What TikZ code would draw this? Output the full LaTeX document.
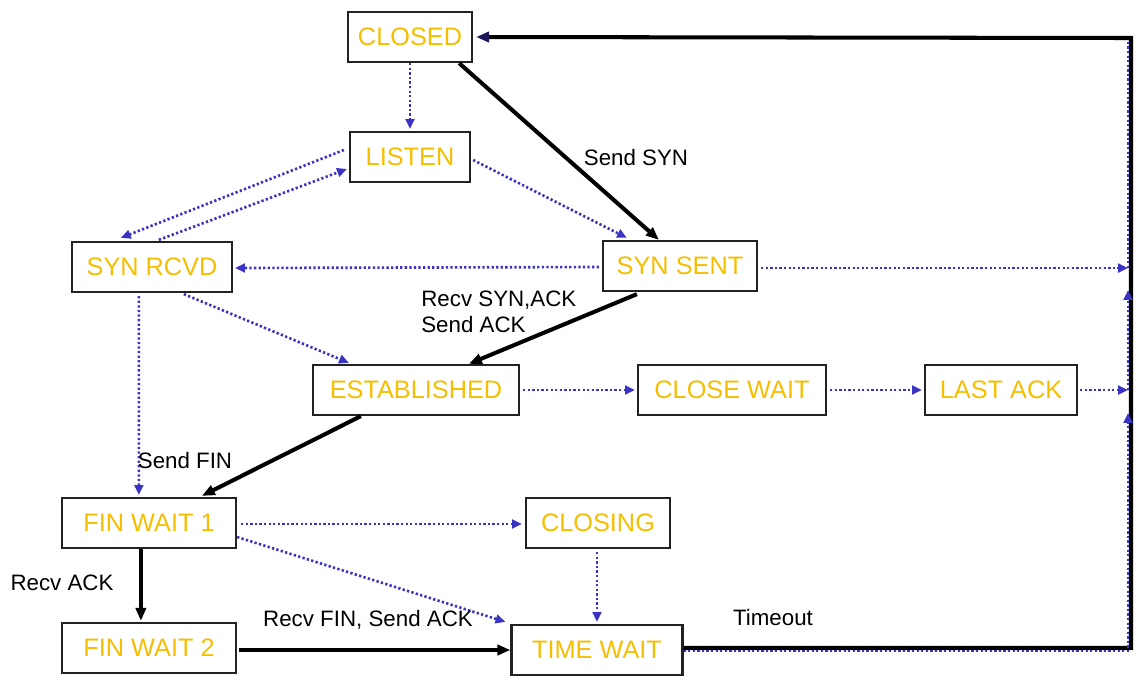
\documentclass[tikz,border=0pt]{standalone}
\usepackage{fontspec}
\setmainfont{Liberation Sans}
\usepackage{tikz}
\usetikzlibrary{arrows.meta,calc}
\definecolor{cGold}{HTML}{F5BF00}
\definecolor{cBlue}{HTML}{3B33C4}
\definecolor{cEdge}{HTML}{222222}
\tikzset{
  state/.style={draw=cEdge,line width=1.3pt,fill=white,text=cGold,inner sep=0pt,
    minimum height=1.0cm,font=\fontsize{14.4}{16}\selectfont},
  lbl/.style={inner sep=0pt,align=left,font=\fontsize{12.7}{15}\selectfont},
  tcp/.style={-{Triangle[length=7.4pt,width=5.8pt]},line width=2.3pt,black},
  opt/.style={-{Triangle[length=5.6pt,width=5pt]},cBlue,line width=1.5pt,
    dash pattern=on 1.3pt off 1.3pt},
}

\begin{document}
\begin{tikzpicture}[x=0.02cm,y=-0.02cm]
  \useasboundingbox (0,0) rectangle (1145,684);
  % states
  \node[state,minimum width=2.48cm] (closed) at (410,37) {CLOSED};
  \node[state,minimum width=2.40cm] (listen) at (410,157) {LISTEN};
  \node[state,minimum width=3.20cm] (synrcvd) at (152,267) {SYN RCVD};
  \node[state,minimum width=3.08cm] (synsent) at (680,266) {SYN SENT};
  \node[state,minimum width=4.12cm] (established) at (416,390) {ESTABLISHED};
  \node[state,minimum width=3.76cm] (closewait) at (732,390) {CLOSE WAIT};
  \node[state,minimum width=3.04cm] (lastack) at (1001,390) {LAST ACK};
  \node[state,minimum width=3.48cm] (finwait1) at (149,523) {FIN WAIT 1};
  \node[state,minimum width=2.88cm] (closing) at (598,523) {CLOSING};
  \node[state,minimum width=3.48cm] (finwait2) at (149,648) {FIN WAIT 2};
  \node[state,minimum width=3.42cm] (timewait) at (597,650) {TIME WAIT};

  % corners of the return path
  \coordinate (rb) at (1131,648);
  \coordinate (rt) at (1131,38);
  \coordinate (bb) at (1128,651);
  \coordinate (b1) at (1128,413);
  \coordinate (b2) at (1128,390);
  \coordinate (b3) at (1128,290);
  \coordinate (b4) at (1128,268);
  \coordinate (bt) at (1128,40);

  % usual client/server path
  \draw[tcp] ($(closed.south east)+(-14,0)$) -- ($(synsent.north west)+(57,0)$);
  \draw[tcp] ($(synsent.south west)+(35,2)$) -- ($(established.north west)+(157,0)$);
  \draw[tcp] ($(established.south west)+(49,0)$) -- ($(finwait1.north west)+(141,-1)$);
  \draw[tcp] ($(finwait1.south west)+(80,0)$) -- ($(finwait2.north west)+(80,-1)$);
  \draw[tcp] ($(finwait2.east)+(2,2)$) -- (timewait.west);
  \draw[line width=2.3pt,-{Triangle[length=7.4pt,width=5.8pt,color=cBlue!45!black]}]
    ($(timewait.east)+(0,-2)$) -- (rb) -- (rt) -- ($(closed.east)+(3,0)$);

  % other transitions
  \draw[opt] (closed.south) -- ($(listen.north)+(0,-2)$);
  \draw[opt] ($(listen.west)+(-5,-7)$) -- ($(synrcvd.north west)+(50,-3)$);
  \draw[opt] ($(synrcvd.north west)+(88,-1)$) -- ($(listen.west)+(-2,12)$);
  \draw[opt] ($(listen.east)+(2,3)$) -- ($(synsent.north west)+(25,-2)$);
  \draw[opt] ($(synsent.west)+(-3,1)$) -- ($(synrcvd.east)+(2,1)$);
  \draw[opt] ($(synsent.east)+(3,2)$) -- (b4);
  \draw[opt] ($(synrcvd.south west)+(113,1)$) -- ($(established.north west)+(37,-1)$);
  \draw[opt] ($(synrcvd.south west)+(68,3)$) -- ($(finwait1.north west)+(78,-2)$);
  \draw[opt] ($(established.east)+(3,0)$) -- ($(closewait.west)+(-2,0)$);
  \draw[opt] ($(closewait.east)+(3,0)$) -- ($(lastack.west)+(-2,0)$);
  \draw[opt] ($(lastack.east)+(2,0)$) -- (b2);
  \draw[opt] ($(finwait1.east)+(4,1)$) -- ($(closing.west)+(-3,1)$);
  \draw[opt] ($(finwait1.east)+(0,14)$) -- ($(timewait.north west)+(-5,-2)$);
  \draw[opt] ($(closing.south)+(-1,3)$) -- ($(timewait.north)+(0,-2)$);
  \draw[opt] ($(timewait.east)+(0,1)$) -- (bb) -- (b1);
  \draw[opt] (b2) -- (b3);
  \draw[opt,-] (b4) -- (bt);

  % labels
  \node[lbl] (lblsyn) at (636,158) {Send SYN};
  \node[lbl,anchor=west] (lblsynack) at (421,312) {Recv SYN,ACK\\Send ACK};
  \node[lbl] (lblfin) at (185,461) {Send FIN};
  \node[lbl] (lblrecvack) at (62,583) {Recv ACK};
  \node[lbl] (lblrecvfin) at (368,620) {Recv FIN, Send ACK};
  \node[lbl] (lbltimeout) at (773,618) {Timeout};
\end{tikzpicture}
\end{document}
